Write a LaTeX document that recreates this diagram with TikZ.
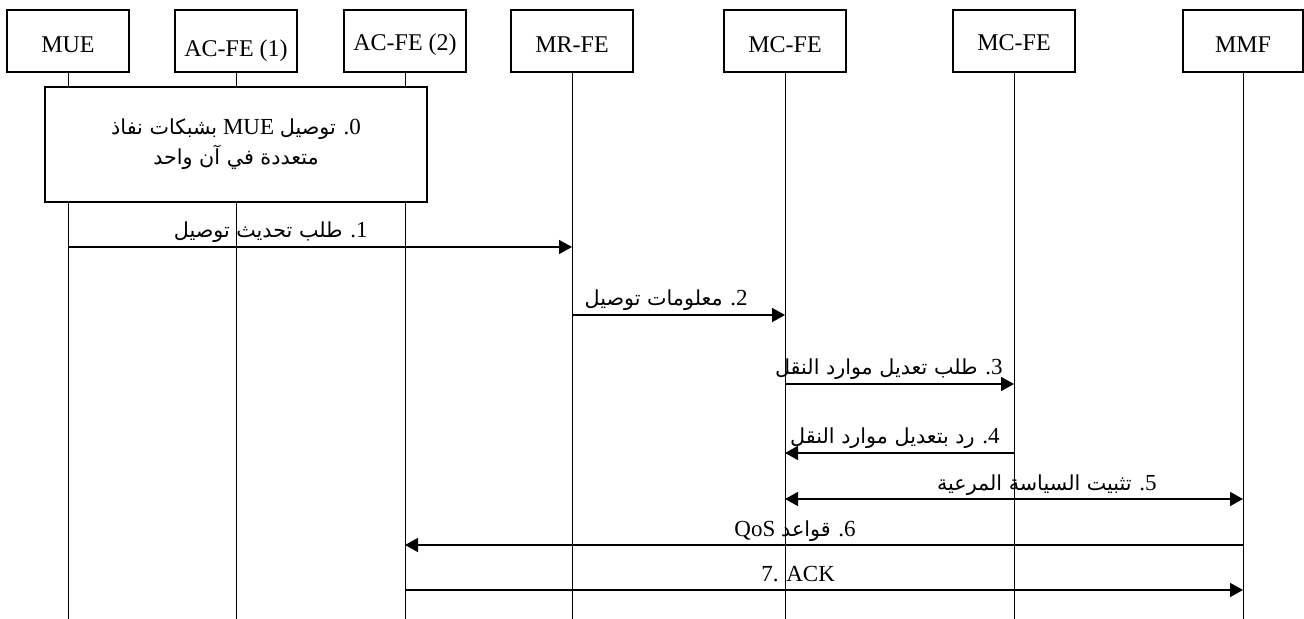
\documentclass[tikz,border=0pt]{standalone}
\usepackage{fontspec}
\setmainfont{Liberation Serif}
\newfontfamily\arabicfont[Script=Arabic,Scale=0.9]{DejaVu Sans}
\TeXXeTstate=1
\usetikzlibrary{arrows.meta}
\newcommand{\arb}[1]{{\arabicfont #1}}

\begin{document}
\begin{tikzpicture}[x=0.5pt, y=-0.5pt, every node/.style={font=\fontsize{11.5}{13}\selectfont},
  fe/.style={draw, line width=0.6pt, minimum width=61pt, minimum height=31pt, inner sep=0pt,
    font=\fontsize{12}{14}\selectfont, text height=12pt, text depth=0pt},
  life/.style={line width=0.5pt},
  msg/.style={line width=0.75pt, -{Triangle[length=6.5pt, width=7pt]}},
  lbl/.style={anchor=base east, inner sep=0pt}]
  \useasboundingbox (0,0) rectangle (1304,619);
  \node[fe] (mue) at (68,41) {MUE};
  \node[fe, text height=15.5pt] (acfe1) at (236,41) {AC-FE (1)};
  \node[fe, text height=9.5pt] (acfe2) at (405,41) {AC-FE (2)};
  \node[fe] (mrfe) at (572,41) {MR-FE};
  \node[fe] (mcfe) at (785,41) {MC-FE};
  \node[fe, text height=9.5pt] (mcfe2) at (1014,41) {MC-FE};
  \node[fe, minimum width=60pt] (mmf) at (1243,41) {MMF};
  \coordinate (bot) at (0,619);
  \foreach \n in {mue,acfe1,acfe2,mrfe,mcfe,mcfe2,mmf}
    \draw[life] (\n.south) -- (\n |- bot);
  \node[draw, fill=white, line width=0.6pt, minimum width=191pt, minimum height=57.5pt, align=center,
    font=\fontsize{11.5}{15}\selectfont] (s0) at (236,144.5)
    {\beginR 0\kern0pt. \arb{توصيل} MUE \arb{بشبكات نفاذ}\endR\\
     \beginR\arb{متعددة في آن واحد}\endR};
  \coordinate (y1) at (0,247);
  \coordinate (y2) at (0,315);
  \coordinate (y3) at (0,384);
  \coordinate (y4) at (0,453);
  \coordinate (y5) at (0,499);
  \coordinate (y6) at (0,545);
  \coordinate (y7) at (0,590);
  \draw[msg] (mue |- y1) -- (mrfe |- y1);
  \node[lbl] (l1) at (368,238) {\beginR 1\kern0pt. \arb{طلب تحديث توصيل}\endR};
  \draw[msg] (mrfe |- y2) -- (mcfe |- y2);
  \node[lbl] (l2) at (748,306) {\beginR 2\kern0pt. \arb{معلومات توصيل}\endR};
  \draw[msg] (mcfe |- y3) -- (mcfe2 |- y3);
  \node[lbl] (l3) at (1003,375) {\beginR 3\kern0pt. \arb{طلب تعديل موارد النقل}\endR};
  \draw[msg] (mcfe2 |- y4) -- (mcfe |- y4);
  \node[lbl] (l4) at (1000,444) {\beginR 4\kern0pt. \arb{رد بتعديل موارد النقل}\endR};
  \draw[msg, {Triangle[length=6.5pt, width=7pt]}-{Triangle[length=6.5pt, width=7pt]}] (mcfe |- y5) -- (mmf |- y5);
  \node[lbl] (l5) at (1157,490) {\beginR 5\kern0pt. \arb{تثبيت السياسة المرعية}\endR};
  \draw[msg] (mmf |- y6) -- (acfe2 |- y6);
  \node[lbl] (l6) at (856,536) {\beginR 6\kern0pt. \arb{قواعد} QoS\endR};
  \draw[msg] (acfe2 |- y7) -- (mmf |- y7);
  \node[lbl, anchor=base west] (l7) at (761,581) {7. ACK};
\end{tikzpicture}
\end{document}
